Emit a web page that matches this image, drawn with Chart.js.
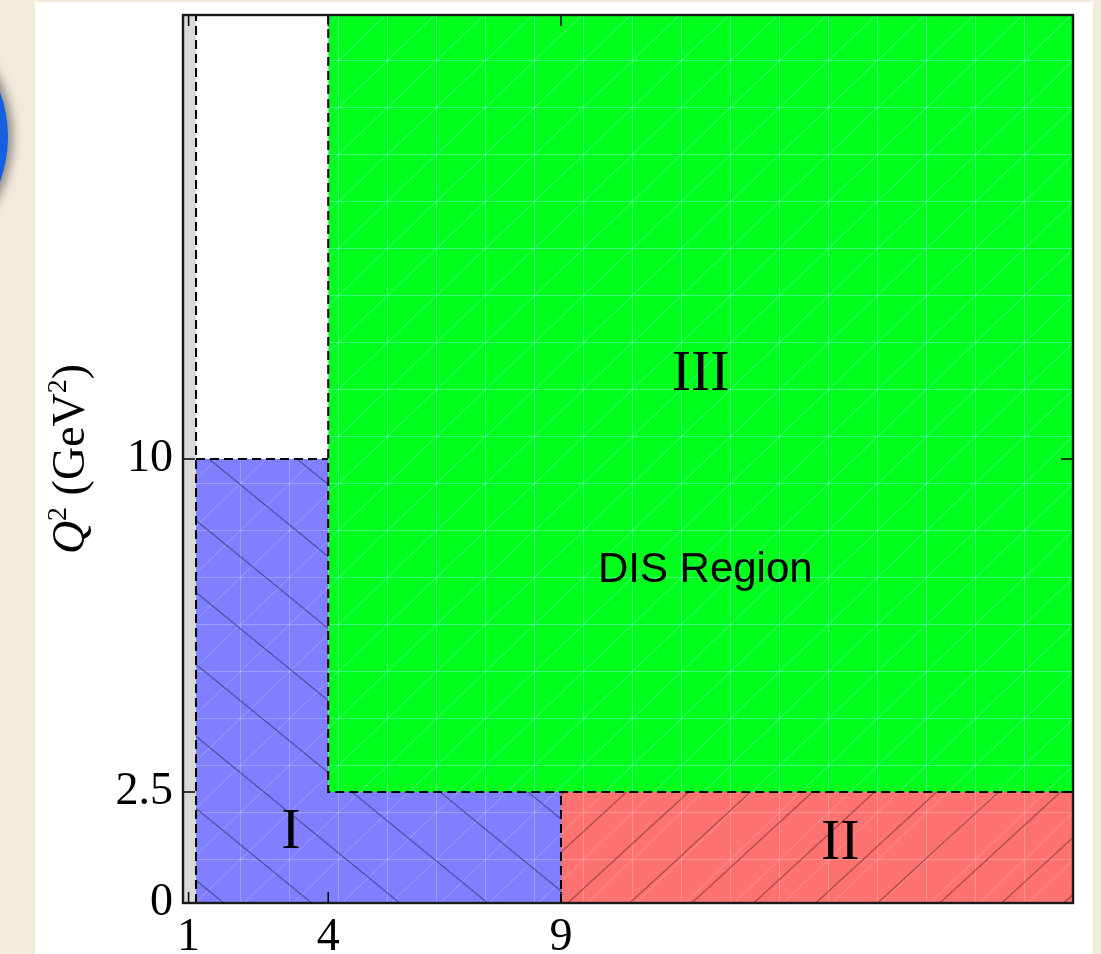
<!DOCTYPE html>
<html>
<head>
<meta charset="utf-8">
<script src="https://cdn.jsdelivr.net/npm/chart.js@4.4.0/dist/chart.umd.min.js"></script>
<style>
html,body{margin:0;padding:0;}
body{width:1101px;height:954px;background:#f2eadb;position:relative;overflow:hidden;}
#panel{position:absolute;left:35px;top:2px;width:1058px;height:952px;background:#fff;}
#dot{position:absolute;left:-252px;top:7px;width:260px;height:260px;border-radius:50%;background:#1560e0;box-shadow:0 0 10px 5px rgba(70,70,70,0.55);}
#wrap{position:absolute;left:0;top:0;width:1101px;height:954px;}
</style>
</head>
<body>
<div id="dot"></div>
<div id="panel"></div>
<div id="wrap"><canvas id="c" width="1101" height="954"></canvas></div>
<script>
// ---- data ----
const xTicks = [1, 4, 9];
const yTicks = [0, 2.5, 10];
const xLimits = [0.88, 20];
const yLimits = [0, 20];
// filled regions (W^2, Q^2 in GeV^2)
const greyX = [0.88, 1.16];
const greyY = [20, 20];
const regionIX = [1.16, 1.16, 4, 4, 9, 9];
const regionIY = [0, 10, 10, 2.5, 2.5, 0];
const regionIIX = [9, 20];
const regionIIY = [2.5, 2.5];
const regionIIIX = [4, 4, 20];
const regionIIIY = [20, 2.5, 2.5];
// dashed boundaries
const edgeLeftX = [1.16, 1.16];
const edgeLeftY = [0, 20];
const edgeTopIX = [1.16, 4];
const edgeTopIY = [10, 10];
const edgeW9X = [9, 9];
const edgeW9Y = [0, 2.5];
const regionNames = ['I', 'II', 'III', 'DIS Region'];

function pts(xs, ys) { return xs.map((x, i) => ({x: x, y: ys[i]})); }

function meshPattern(base, lineColor) {
  const W = 49, H = 47;
  const c = document.createElement('canvas');
  c.width = W; c.height = H;
  const g = c.getContext('2d');
  g.fillStyle = base; g.fillRect(0, 0, W, H);
  g.strokeStyle = lineColor; g.lineWidth = 1;
  g.beginPath();
  g.moveTo(44.5, 0); g.lineTo(44.5, H);
  g.moveTo(0, 13.5); g.lineTo(W, 13.5);
  for (let k = -2; k <= 2; k++) {
    for (let j = -2; j <= 2; j++) {
      g.moveTo(44.5 + W * k, 13.5 + H + H * j);
      g.lineTo(44.5 + W * (k + 1), 13.5 + H * j);
    }
  }
  g.stroke();
  return g.createPattern(c, 'repeat');
}

function hatchPattern(W, H, dir, color) {
  const c = document.createElement('canvas');
  c.width = W; c.height = H;
  const g = c.getContext('2d');
  g.strokeStyle = color; g.lineWidth = 1.3;
  g.beginPath();
  for (let k = -1; k <= 1; k++) {
    for (let j = -1; j <= 1; j++) {
      if (dir === 'back') {
        g.moveTo(k * W, j * H); g.lineTo((k + 1) * W, (j + 1) * H);
      } else {
        g.moveTo(k * W, (j + 1) * H); g.lineTo((k + 1) * W, j * H);
      }
    }
  }
  g.stroke();
  return g.createPattern(c, 'repeat');
}

const greenFill = meshPattern('#00ff1c', 'rgba(110,255,200,0.55)');
const blueFill = meshPattern('#7f7fff', 'rgba(215,215,255,0.35)');
const redFill = meshPattern('#ff7272', 'rgba(255,185,185,0.45)');
const blueHatch = hatchPattern(88, 72, 'back', 'rgba(45,45,105,0.6)');
const redHatch = hatchPattern(62, 57, 'fwd', 'rgba(110,45,45,0.55)');

const base = {showLine: true, pointRadius: 0, pointHoverRadius: 0, tension: 0, borderWidth: 0, borderColor: 'transparent'};
const dash = {showLine: true, pointRadius: 0, pointHoverRadius: 0, tension: 0, fill: false,
  borderColor: '#000', borderWidth: 2, borderDash: [9, 5]};

const labelPlugin = {
  id: 'decor',
  afterDraw(chart, args, opts) {
    const ctx = chart.ctx;
    const a = chart.chartArea;
    const xs = chart.scales.x, ys = chart.scales.y;
    ctx.save();
    // inner ticks
    ctx.strokeStyle = '#000'; ctx.lineWidth = 1.5;
    ctx.beginPath();
    xTicks.forEach(v => {
      const p = xs.getPixelForValue(v);
      ctx.moveTo(p, a.bottom); ctx.lineTo(p, a.bottom - 11);
      ctx.moveTo(p, a.top); ctx.lineTo(p, a.top + 11);
    });
    yTicks.forEach(v => {
      const p = ys.getPixelForValue(v);
      ctx.moveTo(a.left, p); ctx.lineTo(a.left + 12, p);
      ctx.moveTo(a.right, p); ctx.lineTo(a.right - 12, p);
    });
    ctx.stroke();
    // frame
    ctx.strokeStyle = '#1a1a1a'; ctx.lineWidth = 2.4;
    ctx.strokeRect(a.left, a.top, a.right - a.left, a.bottom - a.top);
    // region labels
    ctx.fillStyle = '#000';
    ctx.textAlign = 'center'; ctx.textBaseline = 'middle';
    opts.items.forEach(it => {
      ctx.font = it.font;
      ctx.fillText(it.text, xs.getPixelForValue(it.x), ys.getPixelForValue(it.y));
    });
    // y axis title
    const parts = opts.title;
    let total = 0;
    parts.forEach(p => { ctx.font = p.font; p.w = ctx.measureText(p.t).width; total += p.w; });
    ctx.translate(opts.titleX, (a.top + a.bottom) / 2);
    ctx.rotate(-Math.PI / 2);
    ctx.textAlign = 'left'; ctx.textBaseline = 'alphabetic';
    let x = -total / 2;
    parts.forEach(p => { ctx.font = p.font; ctx.fillText(p.t, x, p.dy || 0); x += p.w; });
    ctx.restore();
  }
};

const serif = '"Liberation Serif", "Times New Roman", serif';
const sans = '"Liberation Sans", Arial, sans-serif';

new Chart(document.getElementById('c'), {
  type: 'scatter',
  data: {
    datasets: [
      Object.assign({}, base, {data: pts(greyX, greyY), fill: 'origin', backgroundColor: '#d9d9d9', order: 12}),
      Object.assign({}, base, {data: pts(regionIIIX, regionIIIY), fill: 'end', backgroundColor: greenFill, order: 11}),
      Object.assign({}, base, {data: pts(regionIIX, regionIIY), fill: 'origin', backgroundColor: redFill, order: 10}),
      Object.assign({}, base, {data: pts(regionIIX, regionIIY), fill: 'origin', backgroundColor: redHatch, order: 9}),
      Object.assign({}, base, {data: pts(regionIX, regionIY), fill: 'origin', backgroundColor: blueFill, order: 8}),
      Object.assign({}, base, {data: pts(regionIX, regionIY), fill: 'origin', backgroundColor: blueHatch, order: 7}),
      Object.assign({}, dash, {data: pts(regionIIIX, regionIIIY), order: 4}),
      Object.assign({}, dash, {data: pts(edgeLeftX, edgeLeftY), order: 3}),
      Object.assign({}, dash, {data: pts(edgeTopIX, edgeTopIY), order: 2}),
      Object.assign({}, dash, {data: pts(edgeW9X, edgeW9Y), order: 1})
    ]
  },
  options: {
    responsive: false,
    animation: false,
    events: [],
    layout: {padding: {left: 0, top: 15, right: 28, bottom: 0}},
    plugins: {
      legend: {display: false},
      tooltip: {enabled: false},
      decor: {
        titleX: 84,
        title: [
          {t: 'Q', font: 'italic 46px ' + serif},
          {t: '2', font: '28px ' + serif, dy: -18},
          {t: ' (GeV', font: '46px ' + serif},
          {t: '2', font: '28px ' + serif, dy: -18},
          {t: ')', font: '46px ' + serif}
        ],
        items: [
          {text: regionNames[0], x: 3.2, y: 1.58, font: '58px ' + serif},
          {text: regionNames[1], x: 15.0, y: 1.34, font: '58px ' + serif},
          {text: regionNames[2], x: 12.0, y: 11.9, font: '58px ' + serif},
          {text: regionNames[3], x: 12.1, y: 7.5, font: '42px ' + sans}
        ]
      }
    },
    scales: {
      x: {
        type: 'linear', min: xLimits[0], max: xLimits[1],
        grid: {display: false, drawTicks: false}, border: {display: false},
        afterBuildTicks: s => { s.ticks = xTicks.map(v => ({value: v})); },
        afterFit: s => { s.height = 51; s.paddingLeft = 0; s.paddingRight = 0; s.paddingTop = 0; s.paddingBottom = 0; },
        ticks: {autoSkip: false, maxRotation: 0, padding: 7, color: '#000', font: {family: serif, size: 46}}
      },
      y: {
        type: 'linear', min: yLimits[0], max: yLimits[1],
        grid: {display: false, drawTicks: false}, border: {display: false},
        afterBuildTicks: s => { s.ticks = yTicks.map(v => ({value: v})); },
        afterFit: s => { s.width = 183; s.paddingLeft = 0; s.paddingRight = 0; s.paddingTop = 0; s.paddingBottom = 0; },
        ticks: {autoSkip: false, padding: 10, color: '#000', font: {family: serif, size: 46}}
      }
    }
  },
  plugins: [labelPlugin]
});
</script>
</body>
</html>
